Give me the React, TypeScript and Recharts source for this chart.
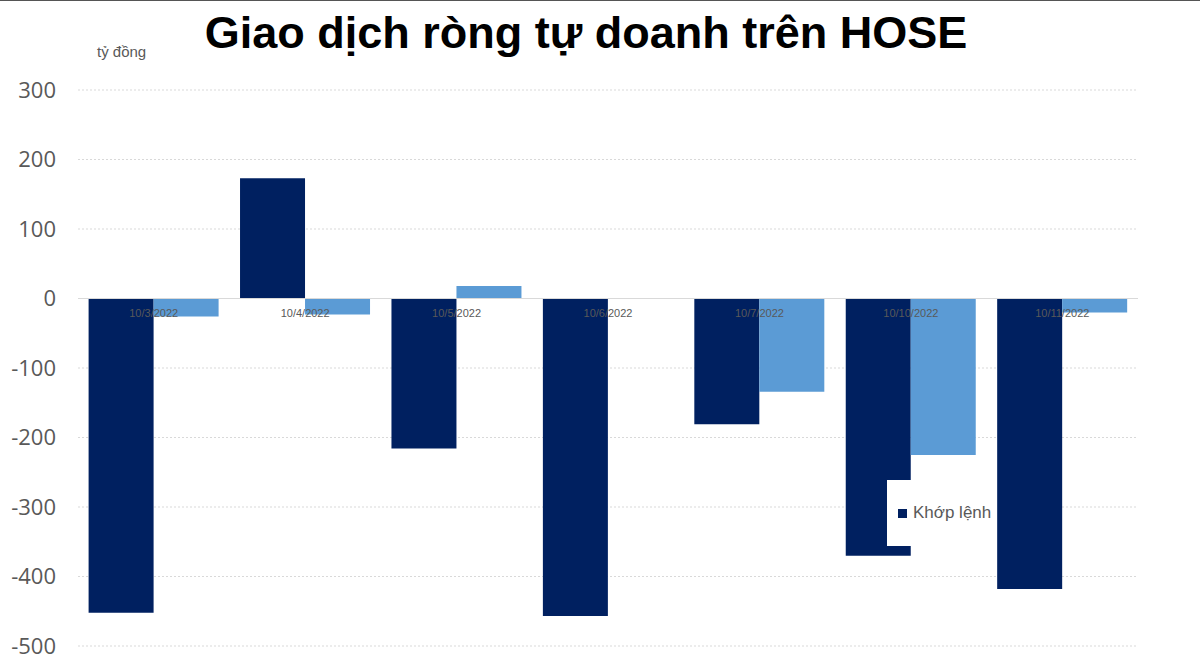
import React from 'react';
import { BarChart, Bar, XAxis, YAxis, CartesianGrid, Legend, ReferenceLine } from 'recharts';

const dates = ['10/3/2022', '10/4/2022', '10/5/2022', '10/6/2022', '10/7/2022', '10/10/2022', '10/11/2022'];
const khopLenh = [-452, 173, -216, -457, -181, -370, -418];
const thoaThuan = [-26, -23, 18, 0, -134, -225, -20];
const yTicks = [-500, -400, -300, -200, -100, 0, 100, 200, 300];

const data = dates.map((d, i) => ({ date: d, khop: khopLenh[i], thoa: thoaThuan[i] }));

const CHART_W = 1200;
const CHART_H = 670;
const TOP = 90;
const X_AXIS_H = 24;
const Y_MIN = -500;
const Y_MAX = 300;
const plotH = CHART_H - TOP - X_AXIS_H;
// the category labels sit on the zero line, not at the bottom of the plot
const zeroY = TOP + plotH * (Y_MAX / (Y_MAX - Y_MIN));

const DateTick = (props: any) => {
  const { x, payload } = props;
  return (
    <text x={x} y={zeroY + 18} textAnchor="middle" fontSize={11} fill="#595959" fontFamily="Liberation Sans, Arial">
      {payload.value}
    </text>
  );
};

const LegendBox = () => (
  <div style={{ display: 'flex', alignItems: 'center', height: 66, paddingLeft: 11, fontFamily: 'Liberation Sans, Arial', fontSize: 17, color: '#595959' }}>
    <span style={{ display: 'inline-block', width: 9, height: 9, background: '#002060', marginRight: 6 }} />
    Khớp lệnh
  </div>
);

export default function App() {
  return (
    <div style={{ position: 'absolute', left: 0, top: 0, width: CHART_W, height: CHART_H, background: '#fff', overflow: 'hidden' }}>
      <div style={{ position: 'absolute', left: 0, top: 0, width: CHART_W, height: 1, background: '#555' }} />
      <div style={{ position: 'absolute', left: 0, top: 7, width: 1172, textAlign: 'center', fontFamily: 'Liberation Sans, Arial', fontWeight: 'bold', fontSize: 45, color: '#000' }}>
        Giao dịch ròng tự doanh trên HOSE
      </div>
      <div style={{ position: 'absolute', left: 97, top: 43, fontFamily: 'Liberation Sans, Arial', fontSize: 15, color: '#595959' }}>
        tỷ đồng
      </div>
      <BarChart
        width={CHART_W}
        height={CHART_H}
        data={data}
        margin={{ top: TOP, right: 62, left: 0, bottom: 0 }}
        barGap={0}
        barCategoryGap="7%"
      >
        <CartesianGrid vertical={false} stroke="#d9d9d9" strokeDasharray="2 2" />
        <YAxis
          domain={[Y_MIN, Y_MAX]}
          ticks={yTicks}
          width={78}
          axisLine={false}
          tickLine={false}
          tickSize={0}
          tickMargin={22}
          tick={{ fontSize: 22, fill: '#595959', fontFamily: 'Open Sans, Liberation Sans' }}
        />
        <ReferenceLine y={0} stroke="#d9d9d9" strokeWidth={1} />
        <Bar dataKey="khop" name="Khớp lệnh" fill="#002060" isAnimationActive={false} />
        <Bar dataKey="thoa" name="Thỏa thuận" fill="#5b9bd5" isAnimationActive={false} />
        <XAxis dataKey="date" height={X_AXIS_H} axisLine={false} tickLine={false} interval={0} tick={<DateTick />} />
        <Legend
          layout="vertical"
          align="center"
          verticalAlign="middle"
          content={<LegendBox />}
          wrapperStyle={{ left: 887, top: 480, width: 110, height: 66, background: '#fff' }}
        />
      </BarChart>
    </div>
  );
}
